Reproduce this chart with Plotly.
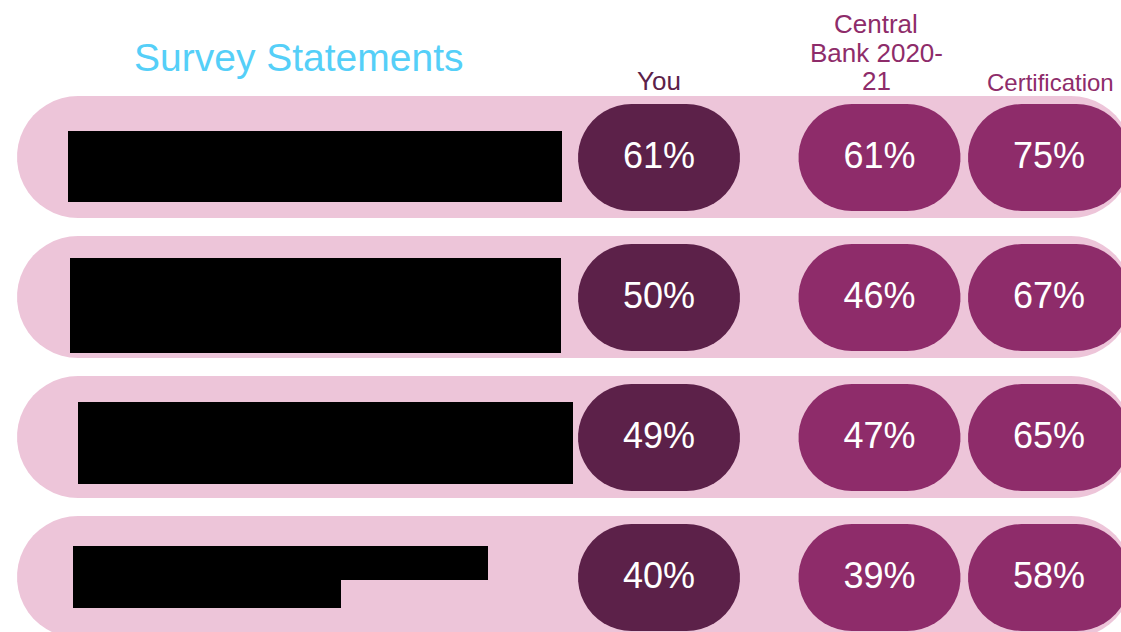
import numpy as np
import plotly.graph_objects as go

# ---- data ----
statements = ["Statement 1 (redacted)", "Statement 2 (redacted)",
              "Statement 3 (redacted)", "Statement 4 (redacted)"]
column_headers = ["You", "Central Bank 2020-21", "Certification"]
you = [61, 50, 49, 40]
central_bank = [61, 46, 47, 39]
certification = [75, 67, 65, 58]
title_text = "Survey Statements"

# ---- layout constants (pixels) ----
W, H = 1121, 632
ROW0, ROW_STEP = 157, 140
FONT = "Liberation Sans, Arial, sans-serif"
PINK = "#EDC5D9"
DARK = "#5C2149"
MED = "#8E2C6A"
BLUE = "#55CFF8"

col_x = [659, 879.5, 1049]
col_fill = [DARK, MED, MED]
col_header_color = [DARK, MED, MED]


def py2y(py):
    return (py - ROW0) / ROW_STEP


def stadium(x0, x1, cy_px, h_px, n=24):
    r = h_px / 2.0
    pts = []
    for t in np.linspace(-np.pi / 2, np.pi / 2, n):
        pts.append((x1 - r + r * np.cos(t), cy_px + r * np.sin(t)))
    for t in np.linspace(np.pi / 2, 3 * np.pi / 2, n):
        pts.append((x0 + r + r * np.cos(t), cy_px + r * np.sin(t)))
    return "M " + " L ".join(f"{x:.2f},{py2y(y):.5f}" for x, y in pts) + " Z"


fig = go.Figure()
shapes = []

# pink row backgrounds
for i, _ in enumerate(statements):
    cy = ROW0 + ROW_STEP * i
    shapes.append(dict(type="path", path=stadium(17, 1132, cy, 122), xref="x", yref="y",
                       fillcolor=PINK, line=dict(width=0), layer="below"))

# redaction boxes (statement text hidden in the source)
boxes = [
    [(68, 131, 562, 202)],
    [(70, 258, 561, 353)],
    [(78, 402, 573, 484)],
    [(73, 546, 488, 580), (73, 546, 341, 608)],
]
for rects in boxes:
    for (x0, y0, x1, y1) in rects:
        shapes.append(dict(type="rect", x0=x0, x1=x1, y0=py2y(y0), y1=py2y(y1), xref="x", yref="y",
                           fillcolor="black", line=dict(width=0), layer="below"))

# pills
series = [you, central_bank, certification]
for c, vals in enumerate(series):
    for i, v in enumerate(vals):
        cy = ROW0 + ROW_STEP * i
        shapes.append(dict(type="path", path=stadium(col_x[c] - 81, col_x[c] + 81, cy + 0.5, 107),
                           xref="x", yref="y", fillcolor=col_fill[c], line=dict(width=0), layer="below"))

# percentage labels
for c, vals in enumerate(series):
    fig.add_trace(go.Scatter(
        x=[col_x[c]] * len(vals), y=[py2y(ROW0 + ROW_STEP * i + 2) for i in range(len(vals))],
        mode="text", text=[f"{v}%" for v in vals], textposition="middle center",
        textfont=dict(family=FONT, size=36, color="white"),
        hoverinfo="skip", showlegend=False))

annotations = []
annotations.append(dict(x=298.5, y=py2y(57), xref="x", yref="y", text=title_text, showarrow=False,
                        font=dict(family=FONT, size=39, color=BLUE), xanchor="center", yanchor="middle"))
annotations.append(dict(x=col_x[0], y=py2y(81), xref="x", yref="y", text=column_headers[0], showarrow=False,
                        font=dict(family=FONT, size=26, color=col_header_color[0]),
                        xanchor="center", yanchor="middle"))
cb_lines = ["Central", "Bank 2020-", "21"]
cb_y = [24, 52.5, 81]
for t, yy in zip(cb_lines, cb_y):
    annotations.append(dict(x=876, y=py2y(yy), xref="x", yref="y", text=t, showarrow=False,
                            font=dict(family=FONT, size=26, color=col_header_color[1]),
                            xanchor="center", yanchor="middle"))
annotations.append(dict(x=1050, y=py2y(82), xref="x", yref="y", text=column_headers[2], showarrow=False,
                        font=dict(family=FONT, size=24, color=col_header_color[2]),
                        xanchor="center", yanchor="middle"))

fig.update_layout(
    width=W, height=H, margin=dict(l=0, r=0, t=0, b=0),
    paper_bgcolor="white", plot_bgcolor="white",
    xaxis=dict(range=[0, W], visible=False, fixedrange=True),
    yaxis=dict(range=[py2y(H), py2y(0)], visible=False, fixedrange=True),
    shapes=shapes, annotations=annotations,
)

fig.write_html("out.html", config={"displayModeBar": False},
               post_script="document.body.style.margin='0';document.body.style.overflow='hidden';")
